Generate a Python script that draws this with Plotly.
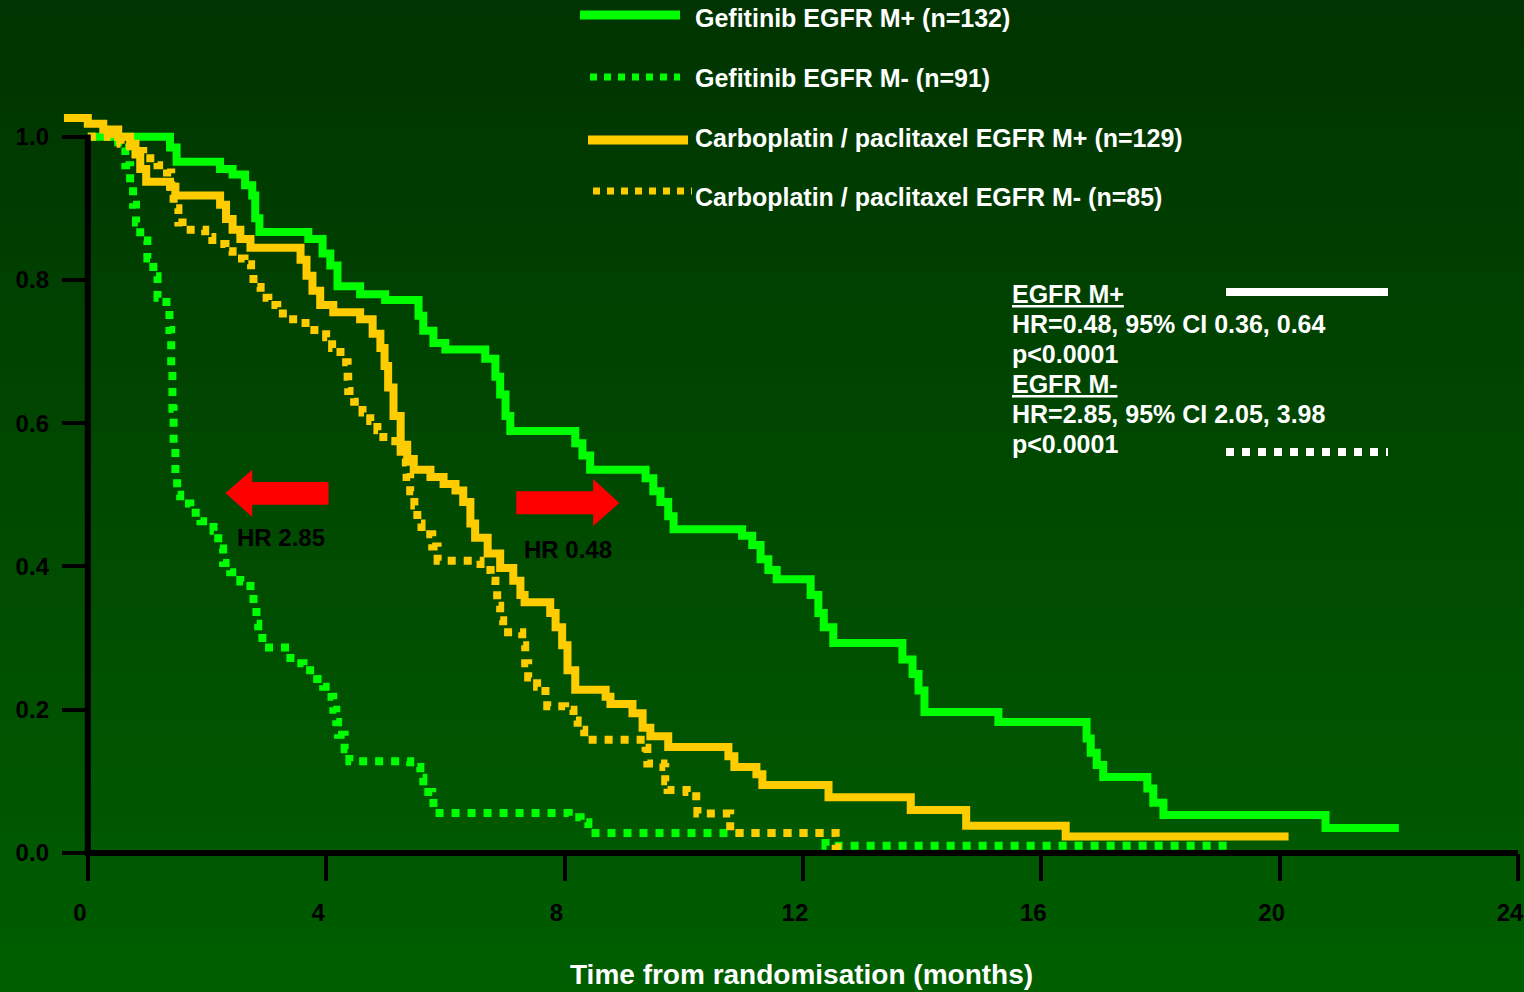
import plotly.graph_objects as go

# ---------------- data (months, proportion surviving) ----------------
gef_pos_t = [0, 1.38, 1.49, 2.22, 2.43, 2.64, 2.76, 2.81, 2.88, 3.70, 3.94, 4.07, 4.19, 4.57, 4.99,
             5.55, 5.63, 5.80, 6.00, 6.67, 6.84, 6.92, 7.01, 7.09, 8.18, 8.30, 8.43, 9.36, 9.49,
             9.61, 9.74, 9.83, 10.98, 11.15, 11.29, 11.42, 11.56, 12.13, 12.26, 12.35, 12.51,
             13.67, 13.84, 13.94, 14.04, 15.28, 16.76, 16.83, 16.93, 17.04, 17.78, 17.88, 18.05,
             20.77, 22.0]
gef_pos_s = [1.0, 0.985, 0.965, 0.955, 0.947, 0.932, 0.918, 0.886, 0.867, 0.857, 0.837, 0.82, 0.791,
             0.780, 0.772, 0.75, 0.729, 0.712, 0.703, 0.69, 0.665, 0.64, 0.61, 0.589, 0.572, 0.555,
             0.535, 0.523, 0.505, 0.49, 0.47, 0.452, 0.443, 0.43, 0.41, 0.395, 0.382, 0.36, 0.335,
             0.315, 0.293, 0.27, 0.25, 0.227, 0.197, 0.183, 0.16, 0.14, 0.123, 0.106, 0.09, 0.07,
             0.053, 0.035, 0.035]

gef_neg_t = [0, 0.51, 0.63, 0.71, 0.76, 0.81, 0.88, 1.00, 1.10, 1.17, 1.32, 1.37, 1.40, 1.42, 1.44,
             1.47, 1.50, 1.55, 1.72, 1.89, 2.11, 2.19, 2.27, 2.39, 2.56, 2.73, 2.78, 2.83, 2.86,
             2.93, 3.31, 3.40, 3.62, 3.85, 3.95, 4.09, 4.12, 4.17, 4.20, 4.31, 4.39, 5.41, 5.58,
             5.63, 5.78, 5.80, 8.07, 8.27, 8.40, 12.38, 19.19]
gef_neg_s = [1.0, 0.985, 0.96, 0.935, 0.905, 0.88, 0.855, 0.83, 0.805, 0.775, 0.76, 0.73, 0.68, 0.62,
             0.57, 0.53, 0.5, 0.488, 0.475, 0.463, 0.45, 0.425, 0.405, 0.392, 0.379, 0.365, 0.345,
             0.32, 0.3, 0.287, 0.28, 0.265, 0.255, 0.243, 0.232, 0.218, 0.2, 0.183, 0.165, 0.145,
             0.128, 0.12, 0.105, 0.085, 0.077, 0.056, 0.05, 0.043, 0.028, 0.01, 0.01]

carbo_pos_t = [-0.4, 0.0, 0.26, 0.51, 0.71, 0.80, 0.88, 0.98, 1.38, 1.47, 2.22, 2.32, 2.43, 2.56,
               2.73, 3.57, 3.67, 3.77, 3.90, 4.12, 4.57, 4.78, 4.91, 4.98, 5.04, 5.13, 5.25, 5.36,
               5.47, 5.75, 5.97, 6.17, 6.30, 6.42, 6.50, 6.71, 6.92, 7.14, 7.26, 7.33, 7.76, 7.85,
               7.96, 8.05, 8.18, 8.69, 8.77, 9.14, 9.31, 9.44, 9.74, 10.75, 10.85, 11.22, 11.32,
               12.43, 13.81, 14.74, 16.41, 20.15]
carbo_pos_s = [1.026, 1.018, 1.01, 1.0, 0.99, 0.975, 0.955, 0.937, 0.93, 0.918, 0.905, 0.885, 0.87,
               0.857, 0.845, 0.828, 0.806, 0.785, 0.765, 0.755, 0.745, 0.725, 0.705, 0.68, 0.65,
               0.61, 0.57, 0.55, 0.535, 0.525, 0.515, 0.506, 0.49, 0.46, 0.44, 0.418, 0.398, 0.38,
               0.36, 0.35, 0.335, 0.315, 0.29, 0.255, 0.228, 0.218, 0.208, 0.195, 0.175, 0.163,
               0.148, 0.135, 0.12, 0.11, 0.095, 0.078, 0.06, 0.038, 0.023, 0.023]

carbo_neg_t = [0, 0.38, 0.55, 0.71, 0.93, 1.17, 1.33, 1.40, 1.44, 1.52, 1.59, 1.97, 2.09, 2.31, 2.43,
               2.63, 2.74, 2.78, 2.90, 3.03, 3.18, 3.36, 3.57, 3.73, 4.00, 4.10, 4.24, 4.36, 4.37,
               4.47, 4.61, 4.74, 4.86, 4.96, 5.16, 5.25, 5.35, 5.41, 5.48, 5.53, 5.60, 5.78, 5.87,
               6.59, 6.76, 6.84, 6.87, 6.92, 6.97, 7.29, 7.34, 7.39, 7.54, 7.68, 7.71, 8.01, 8.15,
               8.22, 8.33, 9.36, 9.39, 9.66, 9.69, 9.73, 10.05, 10.21, 10.23, 10.78, 12.55, 12.66]
carbo_neg_s = [1.0, 0.995, 0.99, 0.98, 0.97, 0.96, 0.95, 0.93, 0.9, 0.88, 0.87, 0.86, 0.85, 0.84,
               0.83, 0.822, 0.81, 0.79, 0.775, 0.765, 0.753, 0.745, 0.74, 0.73, 0.72, 0.705, 0.685,
               0.665, 0.645, 0.63, 0.615, 0.603, 0.59, 0.575, 0.565, 0.545, 0.525, 0.505, 0.485,
               0.46, 0.445, 0.428, 0.408, 0.395, 0.38, 0.366, 0.345, 0.325, 0.308, 0.29, 0.265,
               0.245, 0.232, 0.22, 0.205, 0.2, 0.185, 0.172, 0.158, 0.147, 0.125, 0.12, 0.1, 0.088,
               0.085, 0.07, 0.055, 0.028, 0.008, 0.008]

legend_labels = ["Gefitinib EGFR M+ (n=132)", "Gefitinib EGFR M- (n=91)",
                 "Carboplatin / paclitaxel EGFR M+ (n=129)", "Carboplatin / paclitaxel EGFR M- (n=85)"]
x_ticks = [0, 4, 8, 12, 16, 20, 24]
y_ticks = [0.0, 0.2, 0.4, 0.6, 0.8, 1.0]
stats_lines = ["<u>EGFR M+</u>", "HR=0.48, 95% CI 0.36, 0.64", "p<0.0001",
               "<u>EGFR M-</u>", "HR=2.85, 95% CI 2.05, 3.98", "p<0.0001"]
hr_labels = ["HR 2.85", "HR 0.48"]
x_title = "Time from randomisation (months)"

# ---------------- layout geometry ----------------
W, H = 1524, 992
ML, MR, MT, MB = 58, 6, 108, 139
PW = W - ML - MR
PH = H - MT - MB
XR = [-0.5, 24.0]
YR = [0.0, 1.04]


def px(xp):
    return (xp - ML) / PW


def py(yp):
    return (H - MB - yp) / PH


def dx(t):
    return (t - XR[0]) / (XR[1] - XR[0])


def dy(s):
    return (s - YR[0]) / (YR[1] - YR[0])


GREEN = "#00ff00"
YELLOW = "#ffcc00"
FONT = "Liberation Sans, Arial, sans-serif"
DOT = "8px,8px"

fig = go.Figure()

series = [
    (gef_neg_t, gef_neg_s, GREEN, DOT, legend_labels[1]),
    (gef_pos_t, gef_pos_s, GREEN, None, legend_labels[0]),
    (carbo_neg_t, carbo_neg_s, YELLOW, DOT, legend_labels[3]),
    (carbo_pos_t, carbo_pos_s, YELLOW, None, legend_labels[2]),
]
for t, s, c, dash, name in series:
    line = dict(color=c, width=8, shape="hv")
    if dash:
        line["dash"] = dash
    fig.add_trace(go.Scatter(x=t, y=s, mode="lines", line=line, name=name,
                             showlegend=False, hoverinfo="skip"))

shapes = []
# background gradient
N = 62
c_top = (0, 52, 0)
c_bot = (0, 94, 0)
for i in range(N):
    f = i / (N - 1)
    col = "rgb(%d,%d,%d)" % tuple(round(a + (b - a) * f) for a, b in zip(c_top, c_bot))
    y0 = H * i / N
    y1 = H * (i + 1) / N + 1
    shapes.append(dict(type="rect", xref="paper", yref="paper", layer="below",
                       x0=px(-2), x1=px(W + 2), y0=py(y1), y1=py(y0),
                       fillcolor=col, line=dict(width=0)))

# axis lines
shapes.append(dict(type="line", xref="paper", yref="paper", x0=dx(0) - 0.002, x1=dx(24),
                   y0=dy(0), y1=dy(0), line=dict(color="black", width=6)))
shapes.append(dict(type="line", xref="paper", yref="paper", x0=dx(0), x1=dx(0),
                   y0=dy(0), y1=dy(1.0) + 0.003, line=dict(color="black", width=6)))

# red arrows
shapes.append(dict(type="path", xref="x", yref="y", fillcolor="#ff0000", line=dict(width=0),
                   path="M 2.31,0.5026 L 2.76,0.535 L 2.76,0.518 L 4.04,0.518 L 4.04,0.486 "
                        "L 2.76,0.486 L 2.76,0.469 Z"))
shapes.append(dict(type="path", xref="x", yref="y", fillcolor="#ff0000", line=dict(width=0),
                   path="M 8.92,0.4886 L 8.48,0.522 L 8.48,0.505 L 7.19,0.505 L 7.19,0.473 "
                        "L 8.48,0.473 L 8.48,0.4565 Z"))

# legend samples
leg = [(580, 680, 15, GREEN, None, 9), (590, 680, 77, GREEN, "7px,7px", 7),
       (588, 688, 140, YELLOW, None, 9), (593, 692, 191, YELLOW, "7px,7px", 7)]
for x0, x1, yy, c, dash, w in leg:
    ln = dict(color=c, width=w)
    if dash:
        ln["dash"] = dash
    shapes.append(dict(type="line", xref="paper", yref="paper", x0=px(x0), x1=px(x1),
                       y0=py(yy), y1=py(yy), line=ln))

# stats line samples
shapes.append(dict(type="line", xref="paper", yref="paper", x0=px(1226), x1=px(1388),
                   y0=py(292), y1=py(292), line=dict(color="white", width=8)))
shapes.append(dict(type="line", xref="paper", yref="paper", x0=px(1226), x1=px(1388),
                   y0=py(452), y1=py(452), line=dict(color="white", width=8, dash="8px,8px")))

ann = []
for lab, yy in zip(legend_labels, [18, 78, 138, 197]):
    ann.append(dict(text="<b>%s</b>" % lab, xref="paper", yref="paper", x=px(693), y=py(yy),
                    xanchor="left", yanchor="middle", showarrow=False,
                    font=dict(family=FONT, size=25, color="white")))
for lab, yy in zip(stats_lines, [294, 324, 354, 384, 414, 444]):
    ann.append(dict(text="<b>%s</b>" % lab, xref="paper", yref="paper", x=px(1010), y=py(yy),
                    xanchor="left", yanchor="middle", showarrow=False,
                    font=dict(family=FONT, size=25, color="white")))
for lab, xx, yy in zip(hr_labels, [281, 568], [537, 549]):
    ann.append(dict(text="<b>%s</b>" % lab, xref="paper", yref="paper", x=px(xx), y=py(yy),
                    xanchor="center", yanchor="middle", showarrow=False,
                    font=dict(family=FONT, size=24, color="black")))
ann.append(dict(text="<b>%s</b>" % x_title, xref="paper", yref="paper", x=px(801), y=py(974),
                xanchor="center", yanchor="middle", showarrow=False,
                font=dict(family=FONT, size=28, color="white")))

fig.update_layout(
    width=W, height=H,
    margin=dict(l=ML, r=MR, t=MT, b=MB, pad=0, autoexpand=False),
    paper_bgcolor="rgb(0,72,0)",
    plot_bgcolor="rgba(0,0,0,0)",
    shapes=shapes,
    annotations=ann,
    showlegend=False,
    xaxis=dict(range=XR, tickvals=x_ticks, ticktext=[str(v) for v in x_ticks],
               ticks="outside", ticklen=27, tickwidth=4, tickcolor="black",
               showline=False, showgrid=False, zeroline=False, automargin=False,
               ticklabelstandoff=11, ticklabelshift=-8, ticklabeloverflow="allow",
               tickfont=dict(family=FONT, size=24, color="black", weight="bold")),
    yaxis=dict(range=YR, tickvals=y_ticks, tickformat=".1f", anchor="free", position=dx(0),
               ticks="outside", ticklen=26, tickwidth=4, tickcolor="black", automargin=False,
               showline=False, showgrid=False, zeroline=False, ticklabelstandoff=8,
               tickfont=dict(family=FONT, size=24, color="black", weight="bold")),
)

fig.write_html("out.html", config={"displayModeBar": False},
               post_script="document.body.style.margin='0';document.body.style.padding='0';"
                           "document.body.style.overflow='hidden';")
